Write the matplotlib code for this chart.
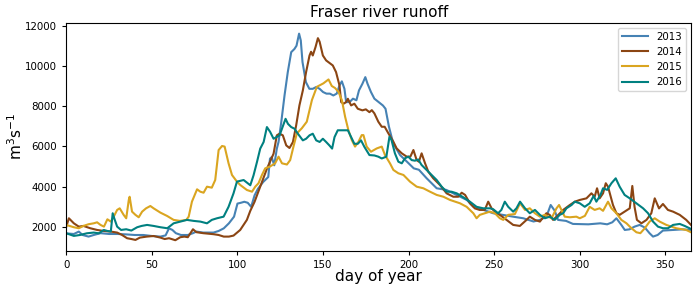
import matplotlib
matplotlib.use('Agg')
import matplotlib.pyplot as plt

# Fraser river daily runoff (m3/s), values at sample days
dias_2013 = [0, 4.4, 7.3, 9.5, 13, 16, 20, 25, 30, 35, 40, 45, 50, 55, 58, 60, 62, 64, 67, 71, 74, 76,
             80, 86, 89, 92, 95, 98, 100, 102, 104, 106, 108, 110, 112, 115, 118, 119, 120, 121.5, 123,
             124, 125.6, 127.5, 129.4, 131.4, 133.3, 134.5, 136, 137, 138, 140, 142, 144, 146, 148, 150,
             152, 154, 156, 158, 159.6, 161, 162.5, 163.5, 165.5, 167.5, 169.5, 171, 173, 174.7, 176, 178,
             180, 182.5, 185, 186.5, 188.5, 191, 195, 200, 203, 206, 210.5, 216.4, 222, 228, 234, 238,
             243.6, 249.4, 255, 261, 267, 270, 273, 276.7, 280.5, 283, 285.4, 287.3, 292, 296, 305, 312,
             316, 319, 321.4, 324.3, 326.3, 329, 332, 335, 338, 340.8, 342.8, 345.5, 348.6, 354.5, 360, 365]
vazao_2013 = [1680, 1650, 1770, 1600, 1520, 1600, 1690, 1650, 1650, 1630, 1600, 1600, 1550, 1520, 1580,
              1930, 1850, 1690, 1600, 1600, 1690, 1770, 1720, 1720, 1800, 1930, 2180, 2510, 3160, 3200,
              3250, 3200, 3000, 3570, 3900, 4230, 4480, 5390, 5470, 5060, 5890, 6220, 7210, 8530, 9690,
              10680, 10840, 11000, 11600, 11260, 10190, 9190, 8860, 8860, 8950, 8860, 8700, 8620, 8620,
              8530, 8620, 9030, 9230, 8860, 8200, 8200, 8370, 8290, 8780, 9110, 9440, 9110, 8700, 8370,
              8200, 8030, 7870, 6980, 6150, 5570, 5160, 4910, 4840, 4420, 3920, 3840, 3590, 3340, 3000,
              2850, 2680, 2600, 2510, 2430, 2350, 2270, 2350, 2510, 3090, 2800, 2350, 2300, 2150, 2130,
              2180, 2130, 2230, 2430, 2100, 1850, 1880, 2015, 2100, 1970, 1685, 1520, 1600, 1820, 1850,
              1880, 1850]

dias_2014 = [0, 1.5, 4.4, 7.3, 10, 14, 18, 22, 26, 29.7, 32.6, 35.5, 38, 40.4, 43, 47, 51, 55, 57.5, 60,
             63.7, 66.6, 69, 71, 74, 76, 80, 86, 89, 92, 95, 97.7, 101.6, 105.5, 107.5, 110, 113.3, 117.2,
             121.1, 123, 124.6, 126.5, 128.5, 130.4, 132.4, 134.3, 136.2, 138.2, 140.1, 142.1, 143, 144,
             145.6, 147, 148, 149.9, 151.8, 155.7, 157.6, 159.6, 160.6, 162, 163.5, 164.5, 166.4, 168.3,
             170.3, 173, 175, 177.1, 178.5, 180, 182.3, 184.3, 186, 188.2, 191.1, 193, 196, 198.9, 201,
             202.8, 204.7, 206, 207.6, 209.6, 211.5, 214.4, 218.3, 222.2, 226.1, 229, 231, 233, 235.8,
             238.7, 241.5, 244.5, 246.5, 248.5, 251.4, 253.3, 257.2, 261.1, 265, 268.9, 270.8, 273.8,
             276.7, 280.5, 282.4, 284.4, 286.4, 290.3, 294.2, 297.1, 300, 303.9, 306.8, 308.7, 310.1,
             311.6, 313.6, 315.2, 316.5, 319.4, 321.4, 323.3, 326.2, 329.2, 330.7, 332, 333.4, 336, 339,
             341.8, 343.8, 346.3, 348.6, 351.5, 354.5, 358.4, 362.2, 365]
vazao_2014 = [2015, 2430, 2180, 2015, 2050, 1935, 1850, 1800, 1770, 1720, 1600, 1440, 1400, 1355, 1470,
              1520, 1550, 1470, 1400, 1440, 1340, 1490, 1520, 1490, 1885, 1740, 1690, 1640, 1600, 1520,
              1520, 1570, 1850, 2350, 2800, 3250, 4000, 4890, 5640, 6550, 6630, 6550, 6050, 5920, 6215,
              7045, 8035, 8780, 9690, 10515, 10700, 10515, 10930, 11375, 11200, 10515, 10270, 10020,
              9690, 9030, 8200, 8120, 8200, 8365, 8035, 8120, 7870, 7790, 7840, 7700, 7800, 7640, 7225,
              6975, 6975, 6645, 6230, 5900, 5655, 5490, 5490, 5820, 5320, 5240, 5655, 5160, 4745, 4415,
              4085, 3670, 3500, 3500, 3700, 3590, 3175, 2920, 2845, 2845, 3255, 2920, 2680, 2600, 2350,
              2100, 2050, 2350, 2510, 2350, 2265, 2680, 2600, 2350, 2510, 2845, 3090, 3255, 3340, 3420,
              3670, 3500, 3920, 3420, 3670, 4170, 4000, 3090, 2680, 2600, 2760, 2925, 4035, 3000, 2350,
              2180, 2350, 2680, 3420, 2920, 3140, 2845, 2760, 2600, 2350, 2100]

dias_2015 = [0, 4.4, 7.3, 10, 13, 16, 18, 20, 22, 24, 26, 27.7, 29.7, 31.2, 33.5, 35, 36.5, 37, 38.4,
             40.4, 42.3, 44.3, 46.6, 49.1, 51, 55, 58.9, 62.7, 66.4, 70.1, 71.5, 73.4, 76.4, 78.3, 80.2,
             82.2, 85, 87, 89, 91, 92.5, 94.8, 96.8, 99.7, 101.6, 105.5, 108.5, 110.4, 112.3, 114.3,
             116.2, 119, 122, 124, 126, 128.9, 130.8, 132.7, 134.7, 137.6, 140.5, 143.5, 146.4, 150.2,
             153.2, 155.1, 157, 159, 161, 162.9, 164.8, 166.8, 168.7, 170.7, 172.6, 173.6, 175.5, 178,
             181.4, 184.3, 186.2, 189.1, 191.1, 194, 197, 200.8, 204.7, 208.6, 212.5, 216.4, 220.3,
             224.2, 230, 233.9, 237.8, 239.7, 241.6, 244.5, 247.5, 250.4, 253.3, 255.3, 258.2, 262.1,
             265.1, 268, 270.8, 273.8, 276.7, 279.6, 283.5, 286.4, 287.9, 289.3, 291.2, 294.2, 298, 300,
             303, 305.8, 308.7, 311.6, 313.6, 316.5, 318.5, 321.4, 324.3, 327.3, 330.2, 333.1, 335.4,
             338, 340.8, 343.8, 346.7, 350.6, 356.4, 362.2, 365]
vazao_2015 = [2100, 1985, 1935, 2050, 2135, 2180, 2230, 2100, 2015, 2380, 2265, 2510, 2845, 2925, 2600,
              2430, 3340, 3500, 2760, 2600, 2480, 2760, 2925, 3040, 2925, 2710, 2545, 2350, 2300, 2350,
              2510, 3255, 3870, 3750, 3700, 4000, 3950, 4330, 5820, 6020, 5990, 5160, 4580, 4250, 4085,
              3835, 3750, 4000, 4170, 4580, 4910, 5000, 5160, 5490, 5160, 5100, 5320, 5980, 6645, 6900,
              7225, 8300, 8960, 9130, 9325, 9000, 8900, 8710, 8300, 7470, 6810, 6315, 5990, 6230, 6560,
              6560, 5990, 5735, 5900, 5990, 5570, 5160, 4830, 4665, 4580, 4250, 4000, 3920, 3750, 3590,
              3500, 3340, 3175, 3000, 2680, 2430, 2600, 2680, 2760, 2680, 2430, 2350, 2600, 2640, 3175,
              2845, 2925, 2680, 2510, 2600, 2430, 2925, 3090, 2845, 2510, 2480, 2510, 2430, 2550, 3000,
              2845, 2925, 2800, 3255, 2925, 2680, 2350, 2180, 1935, 1735, 1690, 1935, 2265, 2430, 2265,
              2100, 1935, 1850, 1735]

dias_2016 = [0, 4.4, 8, 12, 16, 19, 21.9, 24, 26, 27.1, 28, 29.7, 32, 35, 38, 41.4, 44, 47.2, 51, 55, 59,
             62.7, 66.6, 70.5, 74.4, 78.3, 82.2, 85, 88, 91.9, 94.8, 97.7, 99.7, 103.6, 107.5, 109.4,
             111.4, 113.3, 115.3, 117.2, 119.1, 121.1, 124.6, 128.1, 129.5, 131.4, 133.3, 135.3, 138.2,
             140.1, 142.1, 144, 146, 148, 149.9, 151.8, 153.7, 155.3, 156.7, 158.6, 161.5, 164.5, 166.4,
             168.3, 170.3, 172.2, 174.2, 177.1, 180, 182.3, 184.3, 187, 188.8, 190, 192, 194, 196, 197.9,
             199.8, 201.8, 203.7, 205.6, 207.6, 210.5, 213.5, 216.4, 219.3, 222.2, 225.1, 228.1, 232,
             235.8, 239.7, 243.6, 247.5, 249.4, 252.3, 254.2, 256.2, 258.2, 261.1, 263, 265.1, 268,
             270.8, 273.8, 276.7, 279.6, 282.5, 285.4, 288.3, 290.3, 292.2, 295.2, 297.1, 300, 302.9,
             305.8, 308.1, 309.7, 312.1, 313.6, 316, 318.5, 321, 323.3, 326.2, 329.2, 333.1, 337, 339.9,
             342.8, 345.7, 348.6, 351.5, 354.5, 358.4, 361.3, 365]
vazao_2016 = [1685, 1555, 1600, 1685, 1720, 1685, 1850, 1800, 1770, 2680, 2430, 2015, 1850, 1885, 1820,
              1985, 2050, 2100, 2050, 1985, 1935, 2180, 2265, 2350, 2300, 2265, 2180, 2350, 2430, 2510,
              3000, 3670, 4250, 4330, 4070, 4565, 5225, 5890, 6220, 6960, 6720, 6380, 6550, 7370, 7120,
              6960, 6880, 6630, 6300, 6380, 6550, 6630, 6300, 6220, 6380, 6220, 6050, 5890, 6460, 6800,
              6800, 6800, 6460, 6130, 6130, 6300, 5970, 5570, 5550, 5490, 5400, 5490, 6480, 6315, 5655,
              5240, 5160, 5410, 5490, 5320, 5290, 5350, 5075, 4830, 4580, 4330, 4000, 3750, 3750, 3670,
              3470, 3255, 3000, 2925, 2925, 2880, 2680, 2845, 3255, 3000, 2760, 2925, 3255, 2925, 2680,
              2845, 2600, 2430, 2510, 2350, 2600, 2680, 2925, 3090, 3255, 3175, 3000, 3175, 3540, 3255,
              3590, 3920, 3840, 4170, 4415, 4000, 3590, 3420, 3175, 2925, 2680, 2265, 2015, 1935, 1935,
              2100, 2150, 2050, 1900]

anos = ['2013', '2014', '2015', '2016']
cores = ['steelblue', 'saddlebrown', 'goldenrod', 'teal']
series = [(dias_2013, vazao_2013), (dias_2014, vazao_2014),
          (dias_2015, vazao_2015), (dias_2016, vazao_2016)]

fig = plt.figure(figsize=(6.98, 2.93), dpi=100)
ax = fig.add_axes([0.095, 0.143, 0.895, 0.78])

for (dias, vazao), ano, cor in zip(series, anos, cores):
    ax.plot(dias, vazao, color=cor, lw=1.5, label=ano)

ax.set_xlim(0, 365)
ax.set_ylim(800, 12150)
ax.set_xticks(range(0, 351, 50))
ax.set_yticks(range(2000, 12001, 2000))
ax.tick_params(labelsize=7.4, length=3)

ax.set_title('Fraser river runoff', fontsize=11, pad=4)
ax.set_xlabel('day of year', fontsize=11)
ax.set_ylabel('m$^3$s$^{-1}$', fontsize=11)
ax.xaxis.set_label_coords(0.5, -0.08)
ax.yaxis.set_label_coords(-0.066, 0.5)
ax.legend(loc='upper right', fontsize=7.4, handlelength=2.5)

fig.savefig('out.png', dpi=100)
